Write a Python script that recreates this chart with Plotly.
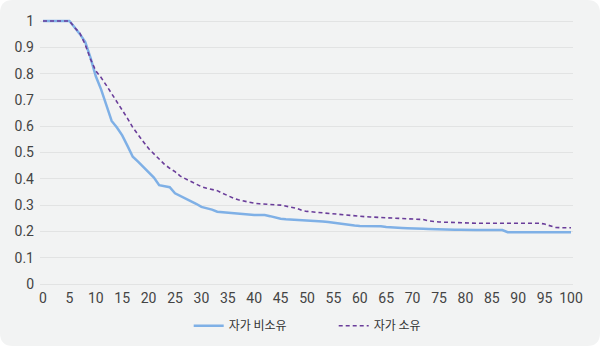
import plotly.graph_objects as go

# Survival-style curves by home ownership (x: 0-100, y: share remaining)
ages = list(range(0, 101))

non_owner = [
    1, 1, 1, 1, 1, 1, 0.975, 0.95, 0.92, 0.86,
    0.79, 0.74, 0.68, 0.62, 0.595, 0.565, 0.525, 0.484, 0.465, 0.445,
    0.425, 0.405, 0.376, 0.372, 0.368, 0.345, 0.335, 0.326, 0.318, 0.305,
    0.293, 0.288, 0.283, 0.275, 0.273, 0.271, 0.269, 0.267, 0.264, 0.262,
    0.262, 0.262, 0.262, 0.258, 0.252, 0.248, 0.246, 0.245, 0.245, 0.244,
    0.243, 0.241, 0.240, 0.238, 0.236, 0.233, 0.229, 0.226, 0.224, 0.222,
    0.221, 0.221, 0.221, 0.221, 0.220, 0.217, 0.215, 0.214, 0.213, 0.212,
    0.212, 0.211, 0.210, 0.209, 0.208, 0.208, 0.207, 0.206, 0.206, 0.206,
    0.205, 0.205, 0.205, 0.205, 0.205, 0.205, 0.205, 0.205, 0.197, 0.197,
    0.197, 0.197, 0.197, 0.197, 0.197, 0.197, 0.197, 0.197, 0.197, 0.197,
    0.197,
]

owner = [
    1, 1, 1, 1, 1, 1, 0.975, 0.953, 0.91, 0.855,
    0.81, 0.785, 0.755, 0.725, 0.695, 0.665, 0.63, 0.595, 0.57, 0.541,
    0.515, 0.495, 0.475, 0.455, 0.44, 0.427, 0.41, 0.40, 0.39, 0.38,
    0.37, 0.364, 0.36, 0.355, 0.345, 0.335, 0.327, 0.32, 0.315, 0.311,
    0.307, 0.305, 0.303, 0.302, 0.301, 0.300, 0.297, 0.292, 0.288, 0.28,
    0.276, 0.274, 0.272, 0.271, 0.268, 0.266, 0.265, 0.263, 0.262, 0.259,
    0.257, 0.256, 0.255, 0.254, 0.252, 0.251, 0.25, 0.249, 0.248, 0.247,
    0.247, 0.246, 0.245, 0.24, 0.237, 0.236, 0.235, 0.234, 0.233, 0.233,
    0.233, 0.232, 0.231, 0.231, 0.231, 0.231, 0.231, 0.231, 0.231, 0.231,
    0.231, 0.231, 0.231, 0.231, 0.231, 0.228, 0.222, 0.215, 0.214, 0.214,
    0.214,
]

series_names = ["자가 비소유", "자가 소유"]
x_ticks = list(range(0, 101, 5))
y_ticks = [0, 0.1, 0.2, 0.3, 0.4, 0.5, 0.6, 0.7, 0.8, 0.9, 1]
y_labels = ["0", "0.1", "0.2", "0.3", "0.4", "0.5", "0.6", "0.7", "0.8", "0.9", "1"]

W, H = 600, 347
L, R, T, B = 40, 27, 18, 60
PW, PH = W - L - R, H - T - B


def to_paper(px, py):
    return (px - L) / PW, (H - B - py) / PH


def rounded_rect(x0, y0, x1, y1, r):
    def p(px, py):
        a, b = to_paper(px, py)
        return f"{a:.5f},{b:.5f}"
    path = f"M {p(x0 + r, y0)} L {p(x1 - r, y0)} Q {p(x1, y0)} {p(x1, y0 + r)} "
    path += f"L {p(x1, y1 - r)} Q {p(x1, y1)} {p(x1 - r, y1)} "
    path += f"L {p(x0 + r, y1)} Q {p(x0, y1)} {p(x0, y1 - r)} "
    path += f"L {p(x0, y0 + r)} Q {p(x0, y0)} {p(x0 + r, y0)} Z"
    return path


fig = go.Figure()
fig.add_trace(go.Scatter(
    x=ages, y=non_owner, name=series_names[0], mode="lines",
    line=dict(color="#7fb0e6", width=2.5), cliponaxis=False,
))
fig.add_trace(go.Scatter(
    x=ages, y=owner, name=series_names[1], mode="lines",
    line=dict(color="#6a3d9a", width=1.6, dash="4px,3px"), cliponaxis=False,
))

fig.add_shape(
    type="path", xref="paper", yref="paper", layer="below",
    path=rounded_rect(0, 0, W, H - 1, 13),
    fillcolor="#f2f3f3", line=dict(width=0),
)

fig.update_layout(
    width=W, height=H,
    margin=dict(l=L, r=R, t=T, b=B, autoexpand=False),
    paper_bgcolor="white",
    plot_bgcolor="rgba(0,0,0,0)",
    font=dict(family="Roboto, 'Noto Sans CJK KR'", size=12, color="#404040"),
    showlegend=True,
    legend=dict(
        orientation="h", x=0.279, xanchor="left", y=-0.09, yanchor="top",
        font=dict(family="'Noto Sans CJK KR'", size=12, color="#333333"),
        itemwidth=30, entrywidth=100, entrywidthmode="pixels",
        tracegroupgap=0, bgcolor="rgba(0,0,0,0)",
    ),
    xaxis=dict(
        range=[-0.57, 100.38], tickvals=x_ticks, showgrid=False, zeroline=False,
        showline=False, ticks="", tickfont=dict(size=14, color="#444444"),
        ticklabelstandoff=1,
    ),
    yaxis=dict(
        range=[-0.0114, 1.0114], tickvals=y_ticks, ticktext=y_labels,
        showgrid=True, gridcolor="#e2e3e3", gridwidth=1, zeroline=False,
        showline=False, ticks="", tickfont=dict(size=14, color="#444444"),
        ticklabelstandoff=5,
    ),
)

fig.write_html("out.html")
